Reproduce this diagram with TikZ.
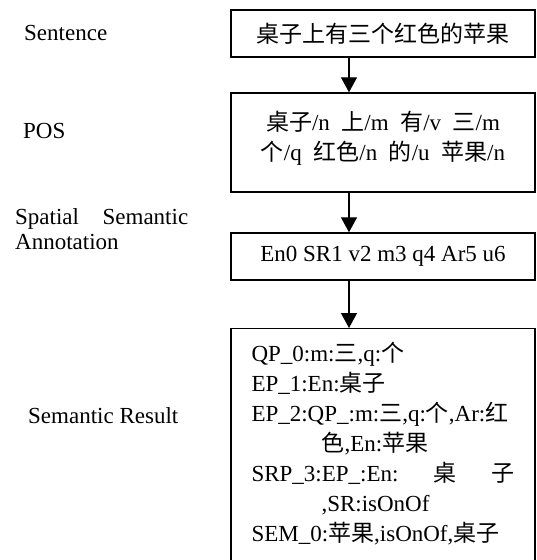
\documentclass[tikz,border=0pt]{standalone}
\usepackage{fontspec}
\setmainfont{Liberation Serif}
\newfontfamily\cjk{Noto Sans CJK SC}
\usepackage{tikz}
\usetikzlibrary{arrows.meta,positioning}
\newcommand{\zh}[1]{{\cjk #1}}
\tikzset{
  stage/.style={rectangle, draw, line width=1.4pt, minimum width=304pt, align=center, inner sep=0pt},
  stagename/.style={inner sep=0pt},
  line/.style={draw, line width=1.3pt, -{Triangle[width=16pt,length=15pt]}}
}

\begin{document}
\begin{tikzpicture}[x=1pt, y=-1pt, font=\fontsize{23pt}{30pt}\selectfont]
    \useasboundingbox (0,0) rectangle (536,560);
    \clip (0,0) rectangle (536,560);
    % Place nodes
    \node [stage, minimum height=47pt] at (383,33.5) (sent) {\zh{桌子上有三个红色的苹果}};
    \node [stage, minimum height=99pt, text depth=14pt] at (383,142.5) (pos)
        {\zh{桌子}/n~~\zh{上}/m~~\zh{有}/v~~\zh{三}/m\\ \zh{个}/q~~\zh{红色}/n~~\zh{的}/u~~\zh{苹果}/n};
    \node [stage, minimum height=47pt] at (383,256.5) (anns) {En0 SR1 v2 m3 q4 Ar5 u6};
    \node [stage, anchor=north, align=left, text width=263pt, inner xsep=20.5pt, inner ysep=13pt, text depth=230pt] at (383,328) (res)
        {QP\_0:m:\zh{三},q:\zh{个}\\
         EP\_1:En:\zh{桌子}\\
         EP\_2:QP\_:m:\zh{三},q:\zh{个},Ar:\zh{红}\\
         \hspace*{70pt}\zh{色},En:\zh{苹果}\\
         \makebox[263pt][l]{SRP\_3:EP\_:En:\hfill\zh{桌}\hfill\zh{子}}\\
         \hspace*{70pt},SR:isOnOf\\
         SEM\_0:\zh{苹果},isOnOf,\zh{桌子}};
    % Stage names
    \node [stagename, anchor=base west] at (24,40) (lsent) {Sentence};
    \node [stagename, anchor=base west] at (23,138) (lpos) {POS};
    \node [stagename, anchor=north west, align=left] at (15,208) (lann) {\makebox[173pt][l]{Spatial\hfill Semantic}\\[-5pt]Annotation};
    \node [stagename, anchor=base west] at (28,423) (lres) {Semantic Result};
    % Draw edges
    \path [line] ([xshift=-34pt]sent.south) -- ([xshift=-34pt]pos.north);
    \path [line] ([xshift=-34pt]pos.south) -- ([xshift=-34pt]anns.north);
    \path [line] ([xshift=-34pt]anns.south) -- ([xshift=-34pt]res.north);
\end{tikzpicture}
\end{document}
